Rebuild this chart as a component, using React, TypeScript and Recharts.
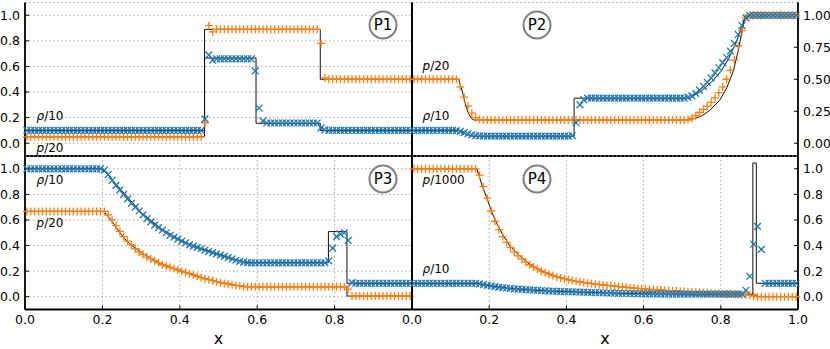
import React from 'react';
import { ComposedChart, Line, XAxis, YAxis, CartesianGrid } from 'recharts';

const BLUE = '#1f77b4';
const ORANGE = '#ff7f0e';
const FONT = '"DejaVu Sans", sans-serif';

// cell centres of the 100-cell grid
const xCells = [
  0.005, 0.015, 0.025, 0.035, 0.045, 0.055, 0.065, 0.075, 0.085, 0.095,
  0.105, 0.115, 0.125, 0.135, 0.145, 0.155, 0.165, 0.175, 0.185, 0.195,
  0.205, 0.215, 0.225, 0.235, 0.245, 0.255, 0.265, 0.275, 0.285, 0.295,
  0.305, 0.315, 0.325, 0.335, 0.345, 0.355, 0.365, 0.375, 0.385, 0.395,
  0.405, 0.415, 0.425, 0.435, 0.445, 0.455, 0.465, 0.475, 0.485, 0.495,
  0.505, 0.515, 0.525, 0.535, 0.545, 0.555, 0.565, 0.575, 0.585, 0.595,
  0.605, 0.615, 0.625, 0.635, 0.645, 0.655, 0.665, 0.675, 0.685, 0.695,
  0.705, 0.715, 0.725, 0.735, 0.745, 0.755, 0.765, 0.775, 0.785, 0.795,
  0.805, 0.815, 0.825, 0.835, 0.845, 0.855, 0.865, 0.875, 0.885, 0.895,
  0.905, 0.915, 0.925, 0.935, 0.945, 0.955, 0.965, 0.975, 0.985, 0.995,
];

// ---------- P1 ----------
const p1Rho = [
  0.1, 0.1, 0.1, 0.1, 0.1, 0.1, 0.1, 0.1, 0.1, 0.1,
  0.1, 0.1, 0.1, 0.1, 0.1, 0.1, 0.1, 0.1, 0.1, 0.1,
  0.1, 0.1, 0.1, 0.1, 0.1, 0.1, 0.1, 0.1, 0.1, 0.1,
  0.1, 0.1, 0.1, 0.1, 0.1, 0.1, 0.1, 0.1, 0.1, 0.1,
  0.1, 0.1, 0.1, 0.1, 0.1, 0.1, 0.19, 0.69, 0.65, 0.66,
  0.66, 0.66, 0.66, 0.66, 0.66, 0.66, 0.66, 0.66, 0.66, 0.565,
  0.275, 0.175, 0.158, 0.158, 0.158, 0.158, 0.158, 0.158, 0.158, 0.158,
  0.158, 0.158, 0.158, 0.158, 0.158, 0.158, 0.12, 0.105, 0.1, 0.1,
  0.1, 0.1, 0.1, 0.1, 0.1, 0.1, 0.1, 0.1, 0.1, 0.1,
  0.1, 0.1, 0.1, 0.1, 0.1, 0.1, 0.1, 0.1, 0.1, 0.1,
];
const p1P = [
  0.05, 0.05, 0.05, 0.05, 0.05, 0.05, 0.05, 0.05, 0.05, 0.05,
  0.05, 0.05, 0.05, 0.05, 0.05, 0.05, 0.05, 0.05, 0.05, 0.05,
  0.05, 0.05, 0.05, 0.05, 0.05, 0.05, 0.05, 0.05, 0.05, 0.05,
  0.05, 0.05, 0.05, 0.05, 0.05, 0.05, 0.05, 0.05, 0.05, 0.05,
  0.05, 0.05, 0.05, 0.05, 0.05, 0.05, 0.16, 0.92, 0.87, 0.89,
  0.89, 0.89, 0.89, 0.89, 0.89, 0.89, 0.89, 0.89, 0.89, 0.89,
  0.89, 0.89, 0.89, 0.89, 0.89, 0.89, 0.89, 0.89, 0.89, 0.89,
  0.89, 0.89, 0.89, 0.89, 0.89, 0.89, 0.78, 0.51, 0.5, 0.5,
  0.5, 0.5, 0.5, 0.5, 0.5, 0.5, 0.5, 0.5, 0.5, 0.5,
  0.5, 0.5, 0.5, 0.5, 0.5, 0.5, 0.5, 0.5, 0.5, 0.5,
];
const p1ExactRho = [[0, 0.1], [0.464, 0.1], [0.464, 0.666], [0.597, 0.666], [0.597, 0.156], [0.763, 0.156], [0.763, 0.1], [1, 0.1]];
const p1ExactP = [[0, 0.05], [0.464, 0.05], [0.464, 0.89], [0.763, 0.89], [0.763, 0.5], [1, 0.5]];

// ---------- P2 ----------
const p2Rho = [
  0.1, 0.1, 0.1, 0.1, 0.1, 0.1, 0.1, 0.1, 0.1, 0.1,
  0.1, 0.098, 0.092, 0.083, 0.074, 0.066, 0.06, 0.057, 0.055, 0.055,
  0.055, 0.055, 0.055, 0.055, 0.055, 0.055, 0.055, 0.055, 0.055, 0.055,
  0.055, 0.055, 0.055, 0.055, 0.055, 0.055, 0.055, 0.055, 0.055, 0.055,
  0.055, 0.06, 0.16, 0.3, 0.34, 0.352, 0.352, 0.352, 0.352, 0.352,
  0.352, 0.352, 0.352, 0.352, 0.352, 0.352, 0.352, 0.352, 0.352, 0.352,
  0.352, 0.352, 0.352, 0.352, 0.352, 0.352, 0.352, 0.352, 0.352, 0.352,
  0.352, 0.36, 0.37, 0.39, 0.415, 0.445, 0.475, 0.51, 0.55, 0.59,
  0.63, 0.67, 0.72, 0.78, 0.85, 0.92, 0.98, 1, 1, 1,
  1, 1, 1, 1, 1, 1, 1, 1, 1, 1,
];
const p2P = [
  0.5, 0.5, 0.5, 0.5, 0.5, 0.5, 0.5, 0.5, 0.5, 0.5,
  0.5, 0.5, 0.44, 0.36, 0.29, 0.235, 0.2, 0.186, 0.182, 0.182,
  0.182, 0.182, 0.182, 0.182, 0.182, 0.182, 0.182, 0.182, 0.182, 0.182,
  0.182, 0.182, 0.182, 0.182, 0.182, 0.182, 0.182, 0.182, 0.182, 0.182,
  0.182, 0.182, 0.182, 0.182, 0.182, 0.182, 0.182, 0.182, 0.182, 0.182,
  0.182, 0.182, 0.182, 0.182, 0.182, 0.182, 0.182, 0.182, 0.182, 0.182,
  0.182, 0.182, 0.182, 0.182, 0.182, 0.182, 0.182, 0.182, 0.182, 0.182,
  0.182, 0.185, 0.195, 0.215, 0.24, 0.265, 0.29, 0.32, 0.355, 0.395,
  0.44, 0.5, 0.57, 0.65, 0.76, 0.88, 0.98, 1, 1, 1,
  1, 1, 1, 1, 1, 1, 1, 1, 1, 1,
];
const p2ExactRho = [[0, 0.1], [0.121, 0.1], [0.13, 0.085], [0.14, 0.071], [0.15, 0.061], [0.159, 0.055], [0.42, 0.055], [0.42, 0.352], [0.72, 0.352], [0.75, 0.41], [0.78, 0.49], [0.8, 0.56], [0.82, 0.66], [0.84, 0.79], [0.855, 0.92], [0.866, 1], [1, 1]];
const p2ExactP = [[0, 0.5], [0.121, 0.5], [0.129, 0.42], [0.138, 0.31], [0.146, 0.234], [0.155, 0.19], [0.159, 0.182], [0.72, 0.182], [0.75, 0.212], [0.771, 0.255], [0.797, 0.335], [0.815, 0.43], [0.832, 0.56], [0.845, 0.72], [0.854, 0.86], [0.863, 1], [1, 1]];

// ---------- P3 ----------
const p3Rho = [
  1, 1, 1, 1, 1, 1, 1, 1, 1, 1,
  1, 1, 1, 1, 1, 1, 1, 1, 1, 1,
  0.99, 0.955, 0.91, 0.87, 0.835, 0.8, 0.765, 0.73, 0.7, 0.67,
  0.64, 0.61, 0.585, 0.56, 0.54, 0.52, 0.5, 0.48, 0.465, 0.45,
  0.435, 0.42, 0.405, 0.395, 0.385, 0.375, 0.365, 0.355, 0.345, 0.335,
  0.325, 0.315, 0.305, 0.295, 0.285, 0.277, 0.27, 0.266, 0.265, 0.265,
  0.265, 0.265, 0.265, 0.265, 0.265, 0.265, 0.265, 0.265, 0.265, 0.265,
  0.265, 0.265, 0.265, 0.265, 0.265, 0.265, 0.265, 0.265, 0.28, 0.38,
  0.47, 0.49, 0.5, 0.44, 0.11, 0.105, 0.105, 0.105, 0.105, 0.105,
  0.105, 0.105, 0.105, 0.105, 0.105, 0.105, 0.105, 0.105, 0.105, 0.105,
];
const p3P = [
  0.667, 0.667, 0.667, 0.667, 0.667, 0.667, 0.667, 0.667, 0.667, 0.667,
  0.667, 0.667, 0.667, 0.667, 0.667, 0.667, 0.667, 0.667, 0.667, 0.667,
  0.667, 0.64, 0.6, 0.555, 0.51, 0.47, 0.435, 0.405, 0.375, 0.35,
  0.33, 0.31, 0.295, 0.28, 0.265, 0.25, 0.24, 0.23, 0.22, 0.21,
  0.2, 0.19, 0.18, 0.17, 0.16, 0.15, 0.14, 0.133, 0.125, 0.117,
  0.11, 0.104, 0.098, 0.093, 0.088, 0.084, 0.08, 0.078, 0.078, 0.078,
  0.078, 0.078, 0.078, 0.078, 0.078, 0.078, 0.078, 0.078, 0.078, 0.078,
  0.078, 0.078, 0.078, 0.078, 0.078, 0.078, 0.078, 0.078, 0.078, 0.078,
  0.078, 0.078, 0.078, 0.06, 0.005, 0.005, 0.005, 0.005, 0.005, 0.005,
  0.005, 0.005, 0.005, 0.005, 0.005, 0.005, 0.005, 0.005, 0.005, 0.005,
];
const p3ExactRho = [[0, 1], [0.2, 1], [0.25, 0.83], [0.3, 0.66], [0.35, 0.535], [0.4, 0.445], [0.45, 0.38], [0.5, 0.33], [0.55, 0.285], [0.575, 0.265], [0.784, 0.265], [0.784, 0.509], [0.832, 0.509], [0.832, 0.105], [1, 0.105]];
const p3ExactP = [[0, 0.667], [0.203, 0.667], [0.22, 0.61], [0.237, 0.535], [0.254, 0.465], [0.27, 0.415], [0.3, 0.345], [0.35, 0.258], [0.4, 0.203], [0.45, 0.157], [0.5, 0.117], [0.55, 0.088], [0.575, 0.078], [0.832, 0.078], [0.832, 0.005], [1, 0.005]];

// ---------- P4 ----------
const p4Rho = [
  0.105, 0.105, 0.105, 0.105, 0.105, 0.105, 0.105, 0.105, 0.105, 0.105,
  0.105, 0.105, 0.105, 0.105, 0.105, 0.105, 0.105, 0.1, 0.095, 0.089,
  0.084, 0.079, 0.075, 0.071, 0.068, 0.065, 0.062, 0.059, 0.057, 0.055,
  0.053, 0.051, 0.049, 0.047, 0.046, 0.044, 0.043, 0.042, 0.041, 0.04,
  0.039, 0.038, 0.037, 0.036, 0.035, 0.034, 0.033, 0.032, 0.031, 0.03,
  0.029, 0.028, 0.027, 0.026, 0.025, 0.025, 0.024, 0.024, 0.023, 0.023,
  0.022, 0.022, 0.022, 0.021, 0.021, 0.021, 0.021, 0.02, 0.02, 0.02,
  0.02, 0.02, 0.02, 0.02, 0.02, 0.02, 0.02, 0.02, 0.02, 0.02,
  0.02, 0.02, 0.02, 0.02, 0.02, 0.02, 0.05, 0.16, 0.41, 0.55,
  0.37, 0.105, 0.105, 0.105, 0.105, 0.105, 0.105, 0.105, 0.105, 0.105,
];
const p4P = [
  1, 1, 1, 1, 1, 1, 1, 1, 1, 1,
  1, 1, 1, 1, 1, 1, 1, 0.95, 0.86, 0.77,
  0.67, 0.59, 0.525, 0.47, 0.425, 0.385, 0.35, 0.32, 0.295, 0.27,
  0.25, 0.232, 0.215, 0.2, 0.188, 0.176, 0.165, 0.155, 0.147, 0.139,
  0.132, 0.126, 0.12, 0.115, 0.11, 0.106, 0.102, 0.098, 0.094, 0.091,
  0.088, 0.085, 0.082, 0.079, 0.076, 0.073, 0.07, 0.068, 0.065, 0.062,
  0.06, 0.058, 0.056, 0.054, 0.052, 0.05, 0.048, 0.046, 0.044, 0.042,
  0.04, 0.038, 0.036, 0.035, 0.033, 0.031, 0.03, 0.028, 0.027, 0.025,
  0.024, 0.022, 0.021, 0.019, 0.018, 0.016, 0.015, 0.012, 0.004, 0,
  0, 0, 0, 0, 0, 0, 0, 0, 0, 0,
];
const p4ExactRho = [[0, 0.105], [0.168, 0.105], [0.2, 0.086], [0.25, 0.066], [0.3, 0.054], [0.35, 0.045], [0.4, 0.04], [0.5, 0.03], [0.6, 0.023], [0.7, 0.02], [0.883, 0.02], [0.883, 1.045], [0.892, 1.045], [0.892, 0.105], [1, 0.105]];
const p4ExactP = [[0, 1], [0.168, 1], [0.181, 0.875], [0.194, 0.77], [0.207, 0.66], [0.22, 0.57], [0.237, 0.475], [0.254, 0.395], [0.28, 0.315], [0.306, 0.25], [0.34, 0.197], [0.375, 0.157], [0.41, 0.13], [0.444, 0.112], [0.478, 0.098], [0.513, 0.087], [0.55, 0.076], [0.6, 0.061], [0.7, 0.042], [0.8, 0.025], [0.892, 0.013], [0.892, 0], [1, 0]];

// ticks
const xTicksAll = [0, 0.2, 0.4, 0.6, 0.8, 1.0];
const xTicksLeftLabels = [0, 0.2, 0.4, 0.6, 0.8];
const yTicks02 = [0, 0.2, 0.4, 0.6, 0.8, 1.0];
const yTicks025 = [0, 0.25, 0.5, 0.75, 1.0];

const panelTags = ['P1', 'P2', 'P3', 'P4'];

const plusDot = (props: any) => {
  const { cx, cy, index } = props;
  if (typeof cx !== 'number' || typeof cy !== 'number') return <g key={`p${index}`} />;
  const r = 4;
  return (
    <path key={`p${index}`} d={`M${cx - r},${cy}H${cx + r}M${cx},${cy - r}V${cy + r}`} stroke={ORANGE} strokeWidth={1.3} fill="none" />
  );
};
const crossDot = (props: any) => {
  const { cx, cy, index } = props;
  if (typeof cx !== 'number' || typeof cy !== 'number') return <g key={`x${index}`} />;
  const r = 3.4;
  return (
    <path key={`x${index}`} d={`M${cx - r},${cy - r}L${cx + r},${cy + r}M${cx - r},${cy + r}L${cx + r},${cy - r}`} stroke={BLUE} strokeWidth={1.3} fill="none" />
  );
};

const tickStyle = { fill: '#000', fontSize: 12.5, fontFamily: FONT };
const axisLineStyle = { stroke: '#000', strokeWidth: 1.8 };

function Panel(props: any) {
  const { left, top, width, height, marginTop, leftW, rightW, bottomH, yTicks, ySide, yDigits, xLabeled, xTicks, rho, p, exRho, exP } = props;
  const rows = xCells.map((x, i) => ({ x, rho: rho[i], p: p[i] }));
  const exRhoRows = exRho.map((pt: number[]) => ({ x: pt[0], y: pt[1] }));
  const exPRows = exP.map((pt: number[]) => ({ x: pt[0], y: pt[1] }));
  const fmtY = (v: number) => v.toFixed(yDigits);
  return (
    <div style={{ position: 'absolute', left, top, width, height }}>
      <ComposedChart width={width} height={height} data={rows} margin={{ top: marginTop, right: 0, bottom: 0, left: 0 }}>
        <CartesianGrid xAxisId="b" yAxisId="l" stroke="#a8a8a8" strokeWidth={1} strokeDasharray="1.5 2.5" />
        <XAxis
          xAxisId="b" dataKey="x" type="number" domain={[0, 1]} ticks={xTicks} interval={0}
          orientation="bottom" height={bottomH} stroke="#000" axisLine={axisLineStyle}
          tickSize={-4} tickMargin={10} tick={xLabeled ? tickStyle : false}
          tickFormatter={(v: number) => v.toFixed(1)}
          label={xLabeled ? { value: 'x', position: 'insideBottom', offset: 5, style: { fontSize: 16, fontFamily: FONT, fill: '#000' } } : undefined}
        />
        <XAxis
          xAxisId="t" dataKey="x" type="number" domain={[0, 1]} ticks={xTicksAll} interval={0}
          orientation="top" height={0} stroke="#000" axisLine={axisLineStyle} tickSize={-4} tick={false}
        />
        <YAxis
          yAxisId="l" type="number" domain={[-0.1, 1.1]} ticks={yTicks} interval={0}
          orientation="left" width={leftW} stroke="#000" axisLine={axisLineStyle}
          tickSize={-4} tickMargin={9} tick={ySide === 'left' ? tickStyle : false} tickFormatter={fmtY}
        />
        <YAxis
          yAxisId="r" type="number" domain={[-0.1, 1.1]} ticks={yTicks} interval={0}
          orientation="right" width={rightW} stroke="#000" axisLine={axisLineStyle}
          tickSize={-4} tickMargin={9} tick={ySide === 'right' ? tickStyle : false} tickFormatter={fmtY}
        />
        <Line xAxisId="b" yAxisId="l" dataKey="p" stroke="none" dot={plusDot} activeDot={false} isAnimationActive={false} legendType="none" />
        <Line xAxisId="t" yAxisId="r" dataKey="rho" stroke="none" dot={crossDot} activeDot={false} isAnimationActive={false} legendType="none" />
        <Line xAxisId="b" yAxisId="l" data={exPRows} dataKey="y" type="linear" stroke="#111" strokeWidth={1} dot={false} activeDot={false} isAnimationActive={false} legendType="none" />
        <Line xAxisId="t" yAxisId="r" data={exRhoRows} dataKey="y" type="linear" stroke="#111" strokeWidth={1} dot={false} activeDot={false} isAnimationActive={false} legendType="none" />
      </ComposedChart>
    </div>
  );
}

const annotations = [
  { x: 36.5, y: 120, sym: 'ρ', rest: '/10' },
  { x: 36.5, y: 151.5, sym: 'p', rest: '/20' },
  { x: 422.5, y: 69.5, sym: 'p', rest: '/20' },
  { x: 422.5, y: 119.5, sym: 'ρ', rest: '/10' },
  { x: 36.5, y: 183.5, sym: 'ρ', rest: '/10' },
  { x: 36.5, y: 226.5, sym: 'p', rest: '/20' },
  { x: 422.5, y: 183.5, sym: 'p', rest: '/1000' },
  { x: 422.5, y: 273, sym: 'ρ', rest: '/10' },
];
const tagPos = [
  { cx: 383, cy: 25 },
  { cx: 537, cy: 25 },
  { cx: 383, cy: 179 },
  { cx: 537, cy: 179 },
];

export default function App() {
  return (
    <div style={{ position: 'absolute', left: 0, top: 0, width: 830, height: 349, background: '#fff', overflow: 'hidden' }}>
      <Panel left={0} top={0} width={416} height={160} marginTop={2.5} leftW={25} rightW={4} bottomH={4}
        yTicks={yTicks02} ySide="left" yDigits={1} xLabeled={false} xTicks={xTicksAll}
        rho={p1Rho} p={p1P} exRho={p1ExactRho} exP={p1ExactP} />
      <Panel left={408} top={0} width={422} height={160} marginTop={2.5} leftW={4} rightW={32} bottomH={4}
        yTicks={yTicks025} ySide="right" yDigits={2} xLabeled={false} xTicks={xTicksAll}
        rho={p2Rho} p={p2P} exRho={p2ExactRho} exP={p2ExactP} />
      <Panel left={0} top={152} width={416} height={197} marginTop={4} leftW={25} rightW={4} bottomH={39.5}
        yTicks={yTicks02} ySide="left" yDigits={1} xLabeled={true} xTicks={xTicksLeftLabels}
        rho={p3Rho} p={p3P} exRho={p3ExactRho} exP={p3ExactP} />
      <Panel left={396} top={152} width={434} height={197} marginTop={4} leftW={16} rightW={32} bottomH={39.5}
        yTicks={yTicks02} ySide="right" yDigits={1} xLabeled={true} xTicks={xTicksAll}
        rho={p4Rho} p={p4P} exRho={p4ExactRho} exP={p4ExactP} />
      <svg width={830} height={349} style={{ position: 'absolute', left: 0, top: 0, pointerEvents: 'none' }}>
        {annotations.map((a, i) => (
          <text key={`a${i}`} x={a.x} y={a.y} fontSize={12} fontFamily={FONT} fill="#000">
            <tspan fontStyle="italic">{a.sym}</tspan>{a.rest}
          </text>
        ))}
        {tagPos.map((t, i) => (
          <g key={`t${i}`}>
            <circle cx={t.cx} cy={t.cy} r={13.5} fill="#fff" stroke="#808080" strokeWidth={2} />
            <text x={t.cx} y={t.cy} fontSize={15} fontFamily={FONT} fill="#000" textAnchor="middle" dominantBaseline="central">{panelTags[i]}</text>
          </g>
        ))}
      </svg>
    </div>
  );
}
